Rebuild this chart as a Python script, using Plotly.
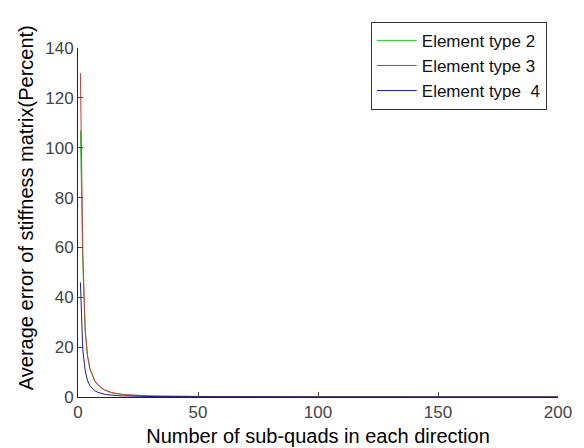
import plotly.graph_objects as go

x_vals = list(range(1, 31)) + [35, 40, 50, 60, 80, 100, 120, 150, 200]

type2 = [107, 54, 26, 16, 11, 8.3, 6.4, 5.1, 4.1, 3.4, 2.8, 2.35, 2.0, 1.7, 1.5,
         1.3, 1.15, 1.02, 0.92, 0.83, 0.75, 0.68, 0.62, 0.57, 0.53, 0.49, 0.45, 0.42, 0.39, 0.37,
         0.3, 0.25, 0.18, 0.13, 0.08, 0.05, 0.04, 0.03, 0.02]
type3 = [130, 58, 27, 16.5, 11.3, 8.5, 6.6, 5.3, 4.3, 3.5, 2.9, 2.45, 2.1, 1.8, 1.6,
         1.4, 1.25, 1.12, 1.0, 0.92, 0.85, 0.78, 0.72, 0.67, 0.62, 0.58, 0.54, 0.5, 0.47, 0.44,
         0.35, 0.28, 0.2, 0.15, 0.09, 0.06, 0.04, 0.03, 0.02]
type4 = [46, 19, 10.5, 6.5, 4.5, 3.3, 2.5, 2.0, 1.6, 1.3, 1.1, 0.95, 0.82, 0.72, 0.64,
         0.57, 0.51, 0.46, 0.42, 0.38, 0.35, 0.32, 0.3, 0.28, 0.26, 0.24, 0.22, 0.21, 0.2, 0.19,
         0.15, 0.12, 0.09, 0.07, 0.05, 0.03, 0.02, 0.02, 0.01]

names = ["Element type 2", "Element type 3", "Element type  4"]
colors = ["#22c822", "#cc3a3a", "#1c1c9c"]

x_ticks = [0, 50, 100, 150, 200]
y_ticks = [0, 20, 40, 60, 80, 100, 120, 140]

x_title = "Number of sub-quads in each direction"
y_title = "Average error of stiffness matrix(Percent)"

fig = go.Figure()
for name, ys, c in zip(names, [type2, type3, type4], colors):
    fig.add_trace(go.Scatter(x=x_vals, y=ys, mode="lines", name=name,
                             line=dict(color=c, width=1)))

font_family = "Liberation Sans, Arial, sans-serif"
fig.update_layout(
    width=584, height=448,
    margin=dict(l=70, r=34, t=40, b=59),
    paper_bgcolor="white", plot_bgcolor="white",
    font=dict(family=font_family, size=17, color="#222"),
    showlegend=True,
    legend=dict(x=0.61, y=1.075, xanchor="left", yanchor="top",
                bordercolor="#333", borderwidth=1, bgcolor="white",
                font=dict(size=17, color="#111"), tracegroupgap=0,
                itemwidth=40),
    xaxis=dict(range=[0, 200], tickvals=x_ticks, ticks="inside", ticklen=5,
               showline=True, linecolor="#222", linewidth=1, showgrid=False,
               zeroline=False, tickfont=dict(size=17, color="#444"),
               title=dict(text=x_title,
                          font=dict(size=20, color="#000"), standoff=7)),
    yaxis=dict(range=[0, 140], tickvals=y_ticks, ticks="inside", ticklen=5,
               showline=True, linecolor="#222", linewidth=1, showgrid=False,
               zeroline=False, tickfont=dict(size=17, color="#444")),
)
fig.add_annotation(text=y_title, textangle=-90, showarrow=False,
                   xref="paper", yref="paper", x=-0.108, y=0.5415,
                   xanchor="center", yanchor="middle",
                   font=dict(size=20, color="#000", family=font_family))

fig.write_html("out.html")
